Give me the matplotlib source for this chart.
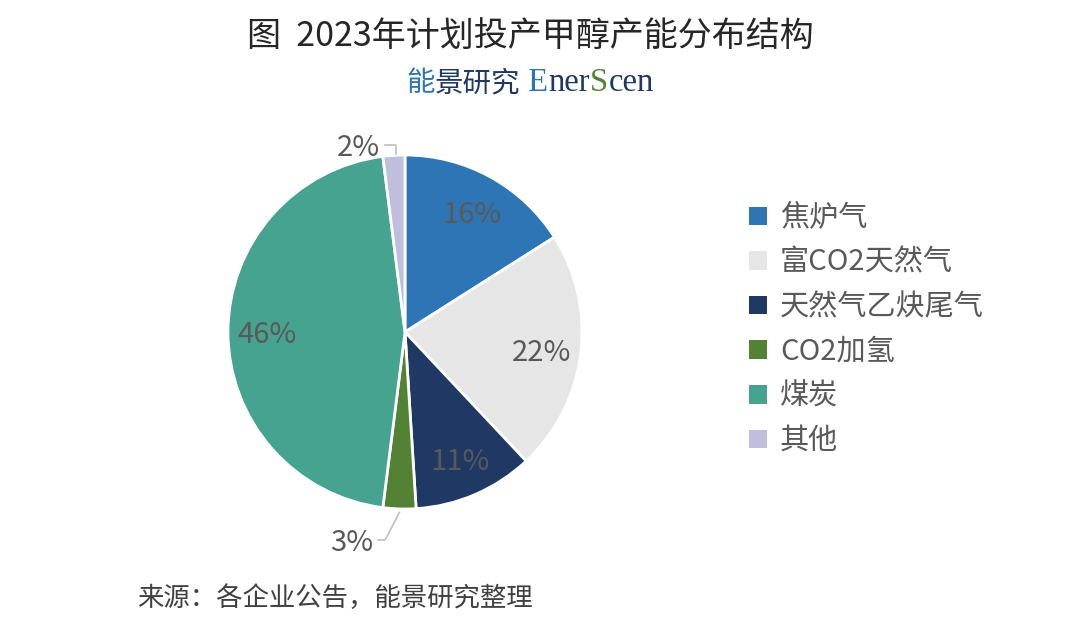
import numpy as np
import matplotlib
matplotlib.use('Agg')
import matplotlib.pyplot as plt
from matplotlib.patches import Patch
from matplotlib.offsetbox import TextArea, HPacker, AnchoredOffsetbox

plt.rcParams['font.family'] = ['Noto Sans CJK SC', 'DejaVu Sans']

# 数据
categories = ['焦炉气', '富CO2天然气', '天然气乙炔尾气', 'CO2加氢', '煤炭', '其他']
shares = [16, 22, 11, 3, 46, 2]
colors = ['#2E75B6', '#E7E6E6', '#1F3864', '#548235', '#45A38F', '#BFBFDD']
outside = ['CO2加氢', '其他']   # 标签放在饼外

fig = plt.figure(figsize=(10.8, 6.31), dpi=100)
fig.patch.set_facecolor('white')

# 饼图所在坐标轴: 中心 (405, 332) px, 半径 177 px
S = 460
ax = fig.add_axes([(405 - S / 2) / 1080, (631 - 332 - S / 2) / 631, S / 1080, S / 631])

wedges, _ = ax.pie(shares, colors=colors, startangle=90, counterclock=False,
                   radius=1.0, wedgeprops=dict(edgecolor='white', linewidth=2))

# pie() 会重设坐标范围, 所以放在后面
lim = S / 2 / 177
ax.set_xlim(-lim, lim)
ax.set_ylim(-lim, lim)
ax.set_aspect('equal')
ax.axis('off')

label_color = '#595959'
for w, cat, val in zip(wedges, categories, shares):
    mid = np.deg2rad((w.theta1 + w.theta2) / 2)
    if cat in outside:
        x0, y0 = np.cos(mid) * 1.01, np.sin(mid) * 1.01
        if y0 > 0:
            xs = [x0 + 0.01, x0 + 0.01, x0 - 0.05]
            ys = [y0, y0 + 0.05, y0 + 0.05]
        else:
            xs = [x0, x0 - 0.08, x0 - 0.12]
            ys = [y0 - 0.01, y0 - 0.165, y0 - 0.165]
        ax.plot(xs, ys, color='#BFBFBF', lw=1.2, clip_on=False)
        ax.text(xs[-1] - 0.03, ys[-1], f'{val}%', ha='right', va='center_baseline',
                fontsize=21, color=label_color)
    else:
        ax.text(np.cos(mid) * 0.78, np.sin(mid) * 0.78, f'{val}%', ha='center',
                va='center_baseline', fontsize=21, color=label_color)

# 标题
fig.text(530 / 1080, 1 - 36 / 631, '图  2023年计划投产甲醇产能分布结构', ha='center',
         va='center', fontsize=24.5, color='#262626')

# 品牌行
navy = '#1F3864'
blue = '#2E75B6'
green = '#548235'
parts = [('能', blue, 'Noto Sans CJK SC', 20.5), ('景研究', navy, 'Noto Sans CJK SC', 20.5),
         (' E', blue, 'Liberation Serif', 23.5), ('ner', navy, 'Liberation Serif', 23.5),
         ('S', green, 'Liberation Serif', 23.5), ('cen', navy, 'Liberation Serif', 23.5)]
boxes = [TextArea(t, textprops=dict(color=c, fontsize=fs, family=f)) for t, c, f, fs in parts]
brand = HPacker(children=boxes, align='baseline', pad=0, sep=0)
ab = AnchoredOffsetbox(loc='center', child=brand, frameon=False,
                       bbox_to_anchor=(530 / 1080, 1 - 83 / 631),
                       bbox_transform=fig.transFigure, borderpad=0, pad=0)
fig.add_artist(ab)

# 图例
handles = [Patch(facecolor=c, edgecolor='none') for c in colors]
fig.legend(handles, categories, loc='upper left', bbox_to_anchor=(723 / 1080, 1 - 177 / 631),
           frameon=False, fontsize=21, handlelength=0.6, handleheight=0.6,
           handletextpad=0.45, labelspacing=0.5, labelcolor='#595959')

# 来源
fig.text(137 / 1080, 1 - 598 / 631, '来源：各企业公告，能景研究整理', ha='left',
         va='center', fontsize=19, color='#404040')

fig.savefig('out.png', dpi=100, facecolor='white')
